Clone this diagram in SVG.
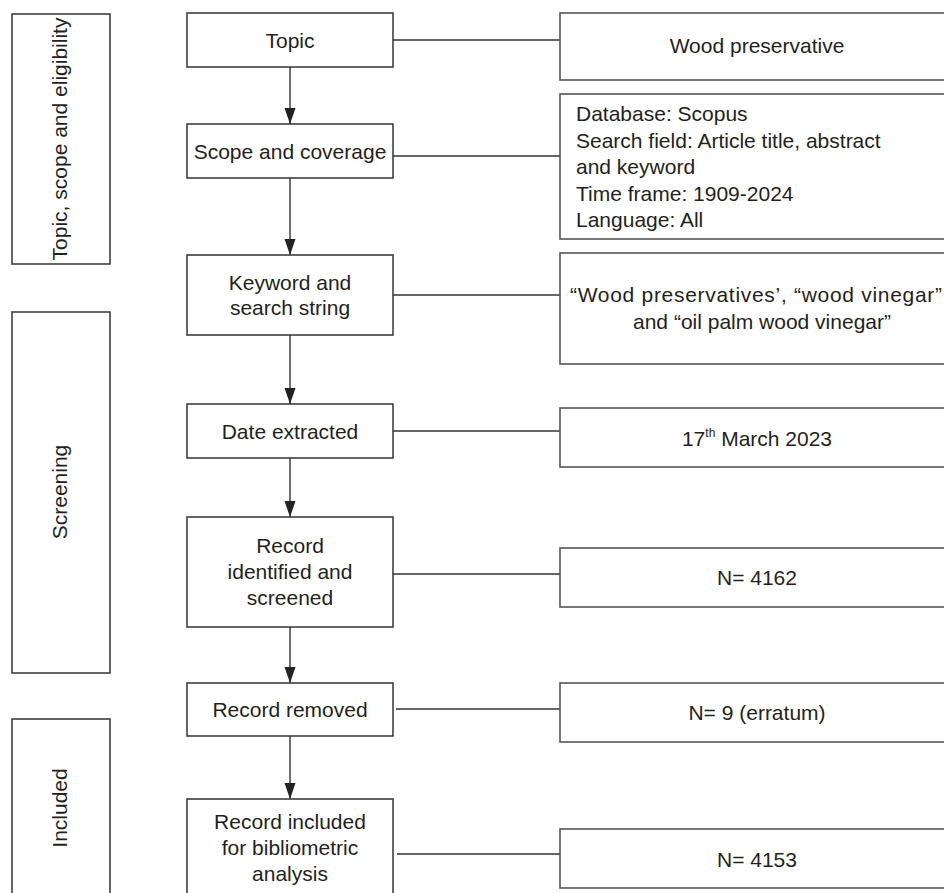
<svg xmlns="http://www.w3.org/2000/svg" width="944" height="893" viewBox="0 0 944 893">
<defs>
<marker id="arr" markerUnits="userSpaceOnUse" markerWidth="16" markerHeight="12" refX="16" refY="5.5" orient="auto">
<path d="M0,0 L16,5.5 L0,11 z" fill="#222"/>
</marker>
<style>
.box{fill:#fff;stroke:#333;stroke-width:1.5}
.rbox{fill:#fff;stroke:#555;stroke-width:1.6}
.t{font-family:"Liberation Sans",Arial,sans-serif;font-size:21px;fill:#231f20}
.c{text-anchor:middle}
.ln{stroke:#333;stroke-width:1.4;fill:none}
</style>
</defs>
<rect width="944" height="893" fill="#fff"/>

<g id="stage-topic">
<rect class="box" x="12" y="14" width="98" height="250"/>
<text class="t c" transform="translate(67,139) rotate(-90)">Topic, scope and eligibility</text>
</g>
<g id="stage-screening">
<rect class="box" x="12" y="312" width="98" height="361"/>
<text class="t c" transform="translate(67,492) rotate(-90)">Screening</text>
</g>
<g id="stage-included">
<rect class="box" x="12" y="719" width="98" height="190"/>
<text class="t c" transform="translate(67,808) rotate(-90)">Included</text>
</g>

<g id="connectors">
<line class="ln" x1="290" y1="67" x2="290" y2="124" marker-end="url(#arr)"/>
<line class="ln" x1="290" y1="178" x2="290" y2="255" marker-end="url(#arr)"/>
<line class="ln" x1="290" y1="335" x2="290" y2="404" marker-end="url(#arr)"/>
<line class="ln" x1="290" y1="458" x2="290" y2="517" marker-end="url(#arr)"/>
<line class="ln" x1="290" y1="627" x2="290" y2="683" marker-end="url(#arr)"/>
<line class="ln" x1="290" y1="736" x2="290" y2="799" marker-end="url(#arr)"/>
<line class="ln" x1="393" y1="40" x2="560" y2="40"/>
<line class="ln" x1="393" y1="156" x2="560" y2="156"/>
<line class="ln" x1="393" y1="295" x2="560" y2="295"/>
<line class="ln" x1="393" y1="431" x2="560" y2="431"/>
<line class="ln" x1="393" y1="574" x2="560" y2="574"/>
<line class="ln" x1="396" y1="709" x2="560" y2="709"/>
<line class="ln" x1="397" y1="854" x2="560" y2="854"/>
</g>

<g id="topic">
<rect class="box" x="187" y="13" width="206" height="54"/>
<text class="t c" x="290" y="48">Topic</text>
</g>
<g id="scope">
<rect class="box" x="187" y="124" width="206" height="54"/>
<text class="t c" x="290" y="159">Scope and coverage</text>
</g>
<g id="keyword">
<rect class="box" x="187" y="255" width="206" height="80"/>
<text class="t c" x="290" y="290">Keyword and</text>
<text class="t c" x="290" y="315">search string</text>
</g>
<g id="date">
<rect class="box" x="187" y="404" width="206" height="54"/>
<text class="t c" x="290" y="439">Date extracted</text>
</g>
<g id="identified">
<rect class="box" x="187" y="517" width="206" height="110"/>
<text class="t c" x="290" y="553">Record</text>
<text class="t c" x="290" y="579">identified and</text>
<text class="t c" x="290" y="605">screened</text>
</g>
<g id="removed">
<rect class="box" x="187" y="683" width="206" height="53"/>
<text class="t c" x="290" y="717">Record removed</text>
</g>
<g id="included">
<rect class="box" x="187" y="799" width="206" height="110"/>
<text class="t c" x="290" y="829">Record included</text>
<text class="t c" x="290" y="855">for bibliometric</text>
<text class="t c" x="290" y="881">analysis</text>
</g>

<g id="r-topic">
<rect class="rbox" x="560" y="13" width="400" height="67"/>
<text class="t c" x="757" y="53">Wood preservative</text>
</g>
<g id="r-scope">
<rect class="rbox" x="560" y="94" width="400" height="145"/>
<text class="t" x="576" y="121">Database: Scopus</text>
<text class="t" x="576" y="148">Search field: Article title, abstract</text>
<text class="t" x="576" y="174">and keyword</text>
<text class="t" x="576" y="201">Time frame: 1909-2024</text>
<text class="t" x="576" y="227">Language: All</text>
</g>
<g id="r-keyword">
<rect class="rbox" x="560" y="253" width="400" height="111"/>
<text class="t" x="570" y="302" textLength="372" lengthAdjust="spacing">“Wood preservatives’, “wood vinegar”</text>
<text class="t c" x="762" y="329">and “oil palm wood vinegar”</text>
</g>
<g id="r-date">
<rect class="rbox" x="560" y="408" width="400" height="59"/>
<text class="t c" x="757" y="446">17<tspan font-size="12" dy="-9">th</tspan><tspan dy="9"> March 2023</tspan></text>
</g>
<g id="r-identified">
<rect class="rbox" x="560" y="548" width="400" height="59"/>
<text class="t c" x="757" y="585">N= 4162</text>
</g>
<g id="r-removed">
<rect class="rbox" x="560" y="683" width="400" height="59"/>
<text class="t c" x="757" y="720">N= 9 (erratum)</text>
</g>
<g id="r-included">
<rect class="rbox" x="560" y="829" width="400" height="59"/>
<text class="t c" x="757" y="867">N= 4153</text>
</g>
</svg>
